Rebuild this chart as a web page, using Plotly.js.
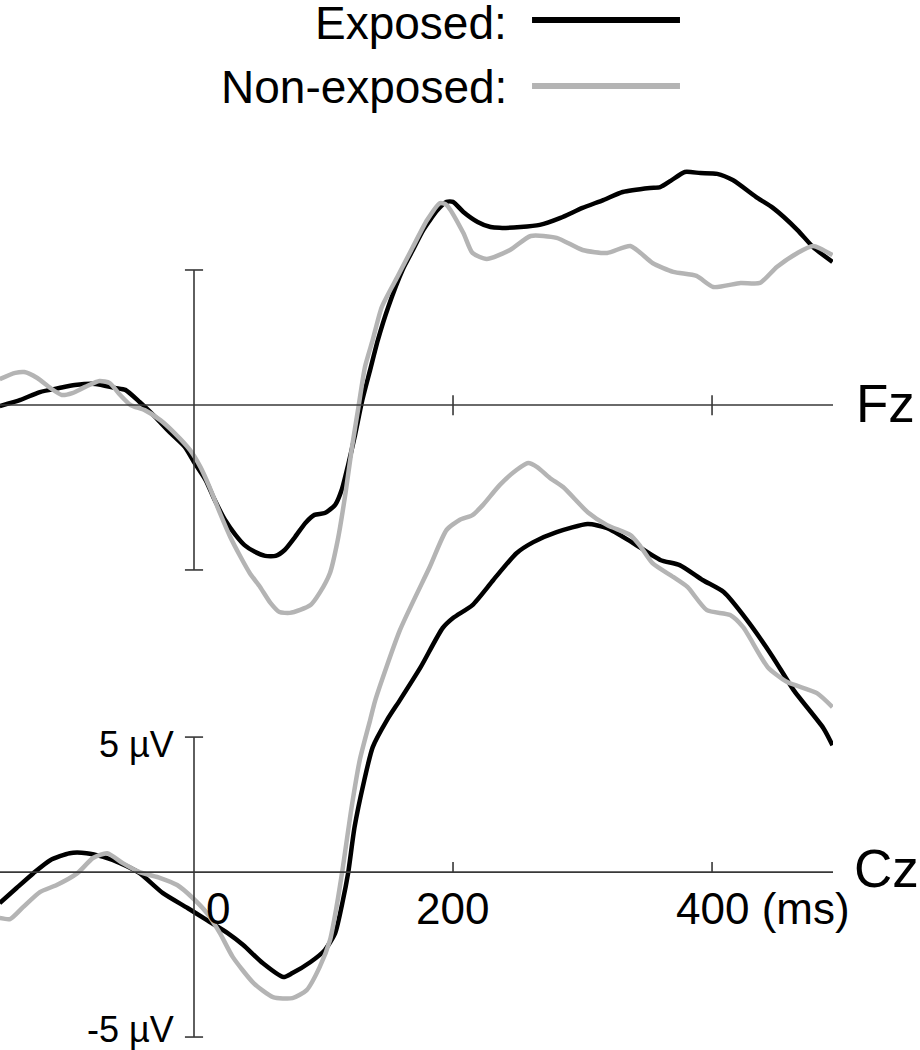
<!DOCTYPE html>
<html>
<head>
<meta charset="utf-8">
<script src="https://cdn.plot.ly/plotly-3.0.1.min.js"></script>
<style>
  html, body { margin: 0; padding: 0; background: #fff; }
  #graph { width: 920px; height: 1050px; }
</style>
</head>
<body>
<div id="graph"></div>
<script>
  // time in ms, amplitude in µV
  var fzTimeExp = [-150,-134,-119,-104,-92,-76,-61,-53,-42,-30,-19,-7,0,9,16,24,32,39,47,55,63,70,78,86,93,101,109,114,119,124,130,136,142,150,161,169,177,188,195,200,208,219,229,236,252,267,283,300,316,331,352,360,368,379,391,404,416,435,447,466,478,493];
  var fzExposed = [-0.04,0.19,0.48,0.63,0.74,0.78,0.63,0.56,0.11,-0.44,-1.0,-1.56,-2.11,-2.78,-3.52,-4.26,-4.81,-5.19,-5.44,-5.59,-5.59,-5.37,-4.89,-4.37,-4.07,-4.0,-3.70,-3.15,-2.22,-1.19,0.19,1.30,2.41,3.63,5.0,5.74,6.48,7.22,7.52,7.52,7.15,6.78,6.59,6.56,6.59,6.67,6.93,7.30,7.59,7.89,8.04,8.07,8.30,8.63,8.59,8.56,8.33,7.67,7.30,6.48,5.85,5.30];

  var fzTimeNon = [-150,-138,-131,-121,-111,-102,-94,-84,-73,-65,-57,-49,-38,-26,-15,-3,5,12,20,28,36,43,51,59,66,74,82,90,97,105,111,117,122,127,132,138,145,157,169,180,190,195,208,215,226,244,260,280,300,319,337,354,370,388,401,422,437,450,466,478,493];
  var fzNonExposed = [0.96,1.19,1.22,1.0,0.63,0.37,0.44,0.67,0.89,0.81,0.37,0,-0.19,-0.56,-1.04,-1.67,-2.30,-3.04,-4.0,-4.89,-5.63,-6.22,-6.74,-7.33,-7.67,-7.70,-7.59,-7.41,-6.96,-6.22,-5.0,-3.26,-1.56,-0.07,1.41,2.41,3.63,4.74,5.85,6.85,7.48,7.41,6.37,5.63,5.41,5.74,6.26,6.19,5.74,5.63,5.89,5.26,4.93,4.78,4.37,4.52,4.52,5.11,5.63,5.89,5.55];

  var czTimeExp = [-150,-137,-124,-111,-96,-83,-70,-57,-42,-24,-5,10,26,38,53,69,76,90,101,109,115,119,124,131,138,149,159,175,192,200,215,231,249,262,280,304,319,339,360,375,393,409,427,447,463,486,493];
  var czExposed = [-1.15,-0.59,-0.04,0.44,0.70,0.70,0.56,0.33,-0.04,-0.78,-1.33,-1.78,-2.26,-2.70,-3.37,-3.89,-3.74,-3.33,-2.89,-2.26,-1.04,-0.04,1.67,3.30,4.63,5.63,6.37,7.59,9.04,9.41,9.89,10.81,11.81,12.22,12.59,12.89,12.74,12.19,11.56,11.37,10.81,10.37,9.33,7.96,6.74,5.33,4.70];

  var czTimeNon = [-150,-142,-132,-119,-106,-90,-78,-67,-55,-42,-26,-13,-1,10,20,30,46,61,76,87,97,105,110,115,121,128,136,140,159,182,195,205,215,223,236,249,258,265,275,285,304,319,337,344,354,370,381,396,414,424,443,458,481,493];
  var czNonExposed = [-1.70,-1.74,-1.30,-0.74,-0.48,-0.04,0.52,0.70,0.33,0,-0.22,-0.48,-0.96,-1.52,-2.26,-3.15,-4.11,-4.63,-4.67,-4.37,-3.52,-2.52,-1.30,0.19,2.19,4.15,5.63,6.37,8.96,11.30,12.67,13.04,13.22,13.59,14.33,14.89,15.15,15.0,14.59,14.26,13.33,12.85,12.48,12.11,11.44,10.93,10.56,9.70,9.52,9.07,7.59,7.04,6.63,6.11];

  var timeTicks = [0, 200, 400];
  var timeTickLabels = ['0', '200', '400 (ms)'];
  var scaleTop = 5, scaleBottom = -6.11;
  var scaleLabels = ['5 µV', '-5 µV'];
  var seriesNames = ['Exposed:', 'Non-exposed:'];
  var channels = ['Fz', 'Cz'];

  var BLACK = '#000000';
  var GREY = '#b4b4b4';
  var AXIS = '#383838';
  var FONT = 'Liberation Sans, Arial, Helvetica, sans-serif';

  function wave(x, y, color, yax) {
    return {
      type: 'scatter', mode: 'lines',
      x: x, y: y, yaxis: yax,
      hoverinfo: 'skip', showlegend: false,
      line: {color: color, width: 4.5, shape: 'spline', smoothing: 0.6}
    };
  }

  var data = [
    wave(fzTimeExp, fzExposed, BLACK, 'y'),
    wave(fzTimeNon, fzNonExposed, GREY, 'y'),
    wave(czTimeExp, czExposed, BLACK, 'y2'),
    wave(czTimeNon, czNonExposed, GREY, 'y2')
  ];

  var shapes = [];
  function seg(x0, y0, x1, y1, yref, xref) {
    shapes.push({type: 'line', xref: xref || 'x', yref: yref,
      x0: x0, y0: y0, x1: x1, y1: y1,
      line: {color: AXIS, width: 1.6}});
  }
  // baselines, scale bars, ticks
  ['y', 'y2'].forEach(function (yr) {
    seg(0, 0, 1, 0, yr, 'paper');
    seg(0, scaleTop, 0, scaleBottom, yr);
    seg(-7, scaleTop, 7, scaleTop, yr);
    seg(-7, scaleBottom, 7, scaleBottom, yr);
  });
  timeTicks.slice(1).forEach(function (t) {
    seg(t, -0.38, t, 0.36, 'y');
    seg(t, 0, t, 0.37, 'y2');
  });
  // legend swatches
  shapes.push({type: 'line', xref: 'paper', yref: 'paper',
    x0: 0.6387, x1: 0.8163, y0: 0.981, y1: 0.981, line: {color: BLACK, width: 6}});
  shapes.push({type: 'line', xref: 'paper', yref: 'paper',
    x0: 0.6387, x1: 0.8163, y0: 0.9181, y1: 0.9181, line: {color: GREY, width: 6}});

  var annotations = [];
  function txt(o) {
    o.showarrow = false;
    o.borderpad = 0;
    o.font = {family: FONT, size: o.size, color: '#000'};
    delete o.size;
    annotations.push(o);
  }
  txt({text: seriesNames[0], xref: 'paper', yref: 'paper', x: 0.6098, y: 0.98, xanchor: 'right', yanchor: 'middle', yshift: -2, size: 46});
  txt({text: seriesNames[1], xref: 'paper', yref: 'paper', x: 0.6098, y: 0.9171, xanchor: 'right', yanchor: 'middle', size: 46});
  txt({text: channels[0], xref: 'paper', yref: 'y', x: 1.026, y: 0, xanchor: 'left', yanchor: 'middle', size: 53, yshift: 1});
  txt({text: channels[1], xref: 'paper', yref: 'y2', x: 1.024, y: 0, xanchor: 'left', yanchor: 'middle', size: 53, yshift: 4});
  txt({text: scaleLabels[0], xref: 'x', yref: 'y2', x: 0, y: scaleTop, xanchor: 'right', yanchor: 'middle', xshift: -19, yshift: -7, size: 36});
  txt({text: scaleLabels[1], xref: 'x', yref: 'y2', x: 0, y: scaleBottom, xanchor: 'right', yanchor: 'middle', xshift: -19, yshift: 8, size: 36});
  txt({text: timeTickLabels[0], xref: 'x', yref: 'y2', x: timeTicks[0], y: 0, xanchor: 'center', yanchor: 'middle', xshift: 24, yshift: -36, size: 44});
  txt({text: timeTickLabels[1], xref: 'x', yref: 'y2', x: timeTicks[1], y: 0, xanchor: 'center', yanchor: 'middle', xshift: -1, yshift: -36, size: 44});
  txt({text: timeTickLabels[2], xref: 'x', yref: 'y2', x: timeTicks[2], y: 0, xanchor: 'left', yanchor: 'middle', xshift: -37, yshift: -36, size: 44});

  var layout = {
    width: 920, height: 1050,
    margin: {l: 0, r: 87, t: 0, b: 0, pad: 0},
    paper_bgcolor: '#fff', plot_bgcolor: '#fff',
    showlegend: false,
    xaxis: {range: [-149.8, 493.4], visible: false, fixedrange: true},
    yaxis: {range: [-23.89, 15], visible: false, fixedrange: true},
    yaxis2: {range: [-6.59, 32.30], visible: false, overlaying: 'y', fixedrange: true},
    shapes: shapes,
    annotations: annotations
  };

  var config = {displayModeBar: false, staticPlot: true};
  Plotly.newPlot('graph', data, layout, config);
</script>
</body>
</html>
